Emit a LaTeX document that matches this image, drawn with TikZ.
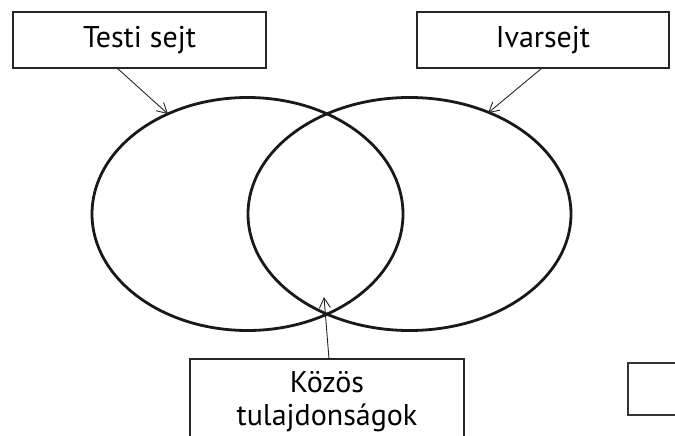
\documentclass[tikz,border=0pt]{standalone}
\usepackage{fontspec}
\setmainfont{PT Sans}
\usetikzlibrary{arrows.meta}
\begin{document}
\begin{tikzpicture}[x=1pt,y=-1pt,
  lbl/.style={draw=black!85,line width=1.6pt,minimum height=56pt,inner sep=0pt,font=\fontsize{30}{33}\selectfont,align=center},
  ring/.style={draw=black!90,line width=2.8pt},
  pointer/.style={draw=black!85,line width=0.9pt,-{Straight Barb[length=10pt,width=11pt,line width=0.9pt]}}]
\useasboundingbox (0,0) rectangle (675,436);
\draw[ring] (247.5,214) ellipse [x radius=155.5, y radius=116.5];
\draw[ring] (409.5,214) ellipse [x radius=161.5, y radius=116.5];
\node[lbl,minimum width=253pt] (testi) at (139.5,40) {Testi sejt};
\node[lbl,minimum width=252pt] (ivar) at (543,40) {Ivarsejt};
\coordinate (t1) at (168,114);
\coordinate (t2) at (488,113);
\coordinate (t3) at (324,297);
\draw[pointer] (117,68) -- (t1);
\draw[pointer] (542,68) -- (t2);
\draw[draw=black!85,line width=1.6pt] (190,445) -- (190,359) -- (464,359) -- (464,445);
\node[font=\fontsize{30}{33}\selectfont,align=center,anchor=base] (kozos) at (327,425) {Közös\\tulajdonságok};
\coordinate (b3) at (329,359);
\draw[pointer] (b3) -- (t3);
\draw[draw=black!80,line width=1.6pt] (680,363) -- (628,363) -- (628,415) -- (680,415);
\end{tikzpicture}
\end{document}
